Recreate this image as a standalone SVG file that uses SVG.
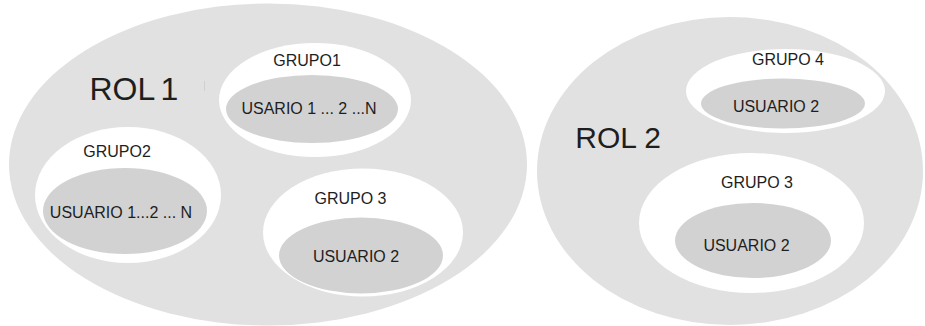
<svg xmlns="http://www.w3.org/2000/svg" width="925" height="326" viewBox="0 0 925 326">
  <style>
    .rol { fill: #e1e1e1; }
    .grupo { fill: #ffffff; }
    .usuario { fill: #d2d2d2; }
    text { font-family: "Liberation Sans", Arial, sans-serif; fill: #1e1e1e; }
    .big { font-size: 32px; }
    .big2 { font-size: 30px; }
    .lbl { font-size: 16px; text-anchor: middle; }
  </style>
  <rect width="925" height="326" fill="#ffffff"/>

  <!-- Role 1 -->
  <g id="rol1">
    <ellipse class="rol" cx="268" cy="164.5" rx="259" ry="161"/>
    <text class="big" x="89.4" y="100">ROL<tspan x="160.5">1</tspan></text>
    <line x1="204.5" y1="81" x2="204.5" y2="91" stroke="#d0d0d0" stroke-width="1"/>
  </g>
  <g id="grupo1">
    <ellipse class="grupo" cx="315" cy="100" rx="96" ry="57"/>
    <ellipse class="usuario" cx="312" cy="109" rx="86" ry="34"/>
    <text class="lbl" x="307" y="65.5">GRUPO1</text>
    <text class="lbl" x="309" y="113.5">USARIO 1 ... 2 ...N</text>
  </g>
  <g id="grupo2">
    <ellipse class="grupo" cx="128" cy="195" rx="93" ry="68"/>
    <ellipse class="usuario" cx="125" cy="211" rx="82" ry="43"/>
    <text class="lbl" x="117" y="157">GRUPO2</text>
    <text class="lbl" x="121" y="217.5">USUARIO 1...2 ... N</text>
  </g>
  <g id="grupo3-rol1">
    <ellipse class="grupo" cx="363" cy="232.5" rx="100" ry="64"/>
    <ellipse class="usuario" cx="361" cy="255.5" rx="82" ry="38"/>
    <text class="lbl" x="350.5" y="204">GRUPO 3</text>
    <text class="lbl" x="356" y="261.5">USUARIO 2</text>
  </g>

  <!-- Role 2 -->
  <g id="rol2">
    <ellipse class="rol" cx="730" cy="171" rx="193" ry="154"/>
    <text class="big2" x="575.3" y="148.3">ROL 2</text>
  </g>
  <g id="grupo4">
    <ellipse class="grupo" cx="785.5" cy="91" rx="99.5" ry="42"/>
    <ellipse class="usuario" cx="783" cy="103.5" rx="82" ry="25"/>
    <text class="lbl" x="788" y="65">GRUPO 4</text>
    <text class="lbl" x="776" y="112.3">USUARIO 2</text>
  </g>
  <g id="grupo3-rol2">
    <ellipse class="grupo" cx="751.5" cy="223" rx="112.5" ry="70"/>
    <ellipse class="usuario" cx="753" cy="240.5" rx="78" ry="37.5"/>
    <text class="lbl" x="757" y="188.3">GRUPO 3</text>
    <text class="lbl" x="746.5" y="250.7">USUARIO 2</text>
  </g>

  <g id="connectors"/>
</svg>
